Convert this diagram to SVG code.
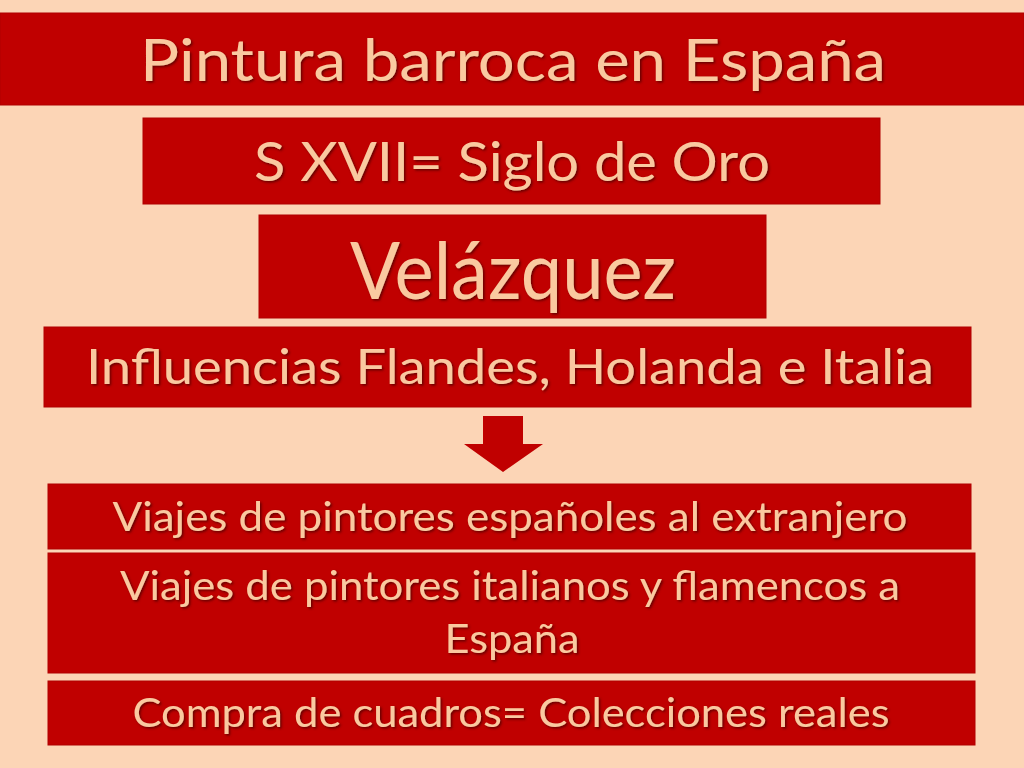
<svg xmlns="http://www.w3.org/2000/svg" width="1024" height="768" viewBox="0 0 1024 768">
<defs>
<style>
.box{fill:#C00000;stroke:#B00000;stroke-width:1}
.t{font-family:"Lato","Open Sans","Liberation Sans",sans-serif;fill:#FAC9A0;text-anchor:middle;filter:url(#sh)}
</style>
<filter id="sh" x="-5%" y="-20%" width="110%" height="140%">
<feDropShadow dx="1.5" dy="1.5" stdDeviation="0.8" flood-color="#400000" flood-opacity="0.7"/>
</filter>
</defs>
<rect width="1024" height="768" fill="#FCD5B6"/>
<g id="title">
<rect class="box" x="0" y="13" width="1024" height="92"/>
<text class="t" x="513" y="81" font-size="58" textLength="746" lengthAdjust="spacingAndGlyphs">Pintura barroca en España</text>
</g>
<g id="siglo">
<rect class="box" x="143" y="118" width="737" height="86"/>
<text class="t" x="512" y="181" font-size="54" textLength="516" lengthAdjust="spacingAndGlyphs">S XVII= Siglo de Oro</text>
</g>
<g id="velazquez">
<rect class="box" x="259" y="215" width="507" height="103"/>
<text class="t" x="513" y="299" font-size="80" textLength="326" lengthAdjust="spacingAndGlyphs">Velázquez</text>
</g>
<g id="influencias">
<rect class="box" x="44" y="327" width="927" height="80"/>
<text class="t" x="510" y="384" font-size="49" textLength="848" lengthAdjust="spacingAndGlyphs">Influencias Flandes, Holanda e Italia</text>
</g>
<g id="connectors">
<polygon points="483,416 523,416 523,444 543,444 503,472 464,444 483,444" fill="#C00000"/>
</g>
<g id="viajes1">
<rect class="box" x="48" y="484" width="923" height="65"/>
<text class="t" x="510" y="531" font-size="41" textLength="795" lengthAdjust="spacingAndGlyphs">Viajes de pintores españoles al extranjero</text>
</g>
<g id="viajes2">
<rect class="box" x="48" y="553" width="927" height="120"/>
<text class="t" x="510" y="600" font-size="41" textLength="780" lengthAdjust="spacingAndGlyphs">Viajes de pintores italianos y flamencos a</text>
<text class="t" x="512" y="653" font-size="41" textLength="135" lengthAdjust="spacingAndGlyphs">España</text>
</g>
<g id="compra">
<rect class="box" x="48" y="681" width="927" height="64"/>
<text class="t" x="511" y="727" font-size="41" textLength="757" lengthAdjust="spacingAndGlyphs">Compra de cuadros= Colecciones reales</text>
</g>
</svg>
